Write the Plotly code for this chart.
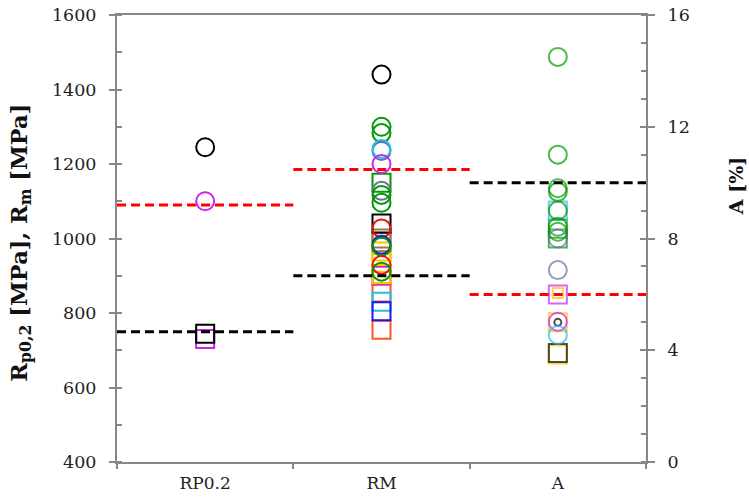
import plotly.graph_objects as go

# ---------------- data ----------------
categories = ["RP0.2", "RM", "A"]
left_tick_values = [400, 600, 800, 1000, 1200, 1400, 1600]
right_tick_values = [0, 4, 8, 12, 16]

# RP0.2 column (MPa, left axis)
rp02_square_values = [730, 744]
rp02_circle_values = [1245, 1100]

# RM column (MPa, left axis)
rm_square_values = [900, 855, 755, 830, 805, 905, 935, 965, 1000, 990, 1040, 1150]
rm_circle_values = [1440, 1300, 1283, 1235, 1240, 1200, 1128, 1117, 1096,
                    1027, 983, 978, 929, 911]

# A column (%, right axis)
a_square_values = [3.85, 3.9, 5.0, 6.0, 6.05, 8.35, 8.0, 9.0]
a_circle_values = [14.5, 11.0, 9.8, 9.67, 9.0, 8.42, 8.24, 8.0, 6.87, 5.02, 5.0, 4.55]

# dashed mean lines per category (RP0.2, RM in MPa; A in %)
red_mean_values = [1090, 1185, 6.0]
black_mean_values = [750, 900, 10.0]

# ---------------- styles ----------------
BLACK = "#000000"
GREEN = "#009a00"
CYAN = "#1fbff0"
SLATE = "#6f6fa8"
MAGENTA = "#cc22ee"
RED = "#ee1111"
BLUE = "#1a1aee"
GOLD = "#ffc000"
BROWN = "#9a7a34"
ORANGE = "#ff5522"
AXIS = "#878787"

rp02_square_colors = [MAGENTA, BLACK]
rp02_circle_colors = [BLACK, MAGENTA]
rm_square_colors = [MAGENTA, ORANGE, ORANGE, CYAN, BLUE, GOLD, GOLD, GOLD,
                    BROWN, BROWN, BLACK, GREEN]
rm_circle_colors = [BLACK, GREEN, GREEN, SLATE, CYAN, MAGENTA, SLATE, GREEN, GREEN,
                    RED, BLUE, GREEN, RED, GREEN]
a_square_colors = [GOLD, BLACK, GOLD, MAGENTA, GOLD, GREEN, GREEN, CYAN]
a_square_sizes = [18, 18, 18, 18, 10, 18, 18, 18]
a_circle_colors = [GREEN, GREEN, GREEN, GREEN, GREEN, GREEN, GREEN, SLATE, SLATE,
                   MAGENTA, BLACK, CYAN]
a_circle_sizes = [18, 18, 18, 18, 18, 18, 18, 18, 18, 18, 7, 18]

FONT = "DejaVu Serif"
MS = 18

fig = go.Figure()


def add_points(cat, values, colors, symbol, sizes=None, yaxis="y"):
    fig.add_trace(go.Scatter(
        x=[cat] * len(values), y=values, mode="markers", yaxis=yaxis,
        marker=dict(symbol=symbol, size=sizes if sizes else MS, color=colors,
                    line=dict(width=2)),
        showlegend=False, hoverinfo="y"))


add_points(categories[0], rp02_square_values, rp02_square_colors, "square-open")
add_points(categories[0], rp02_circle_values, rp02_circle_colors, "circle-open")
add_points(categories[1], rm_square_values, rm_square_colors, "square-open")
add_points(categories[1], rm_circle_values, rm_circle_colors, "circle-open")
add_points(categories[2], a_square_values, a_square_colors, "square-open",
           a_square_sizes, "y2")
add_points(categories[2], a_circle_values, a_circle_colors, "circle-open",
           a_circle_sizes, "y2")

# dashed mean lines spanning each category band
shapes = []
for i, cat in enumerate(categories):
    yref = "y2" if cat == "A" else "y"
    for val, col in ((red_mean_values[i], "#ff0000"), (black_mean_values[i], "#000000")):
        shapes.append(dict(type="line", xref="x", yref=yref,
                           x0=i - 0.5, x1=i + 0.5, y0=val, y1=val,
                           line=dict(color=col, width=3, dash="9px,5px"),
                           layer="above"))

tickfont = dict(family=FONT, size=17.5, color="#222222")
xtickfont = dict(family=FONT, size=17, color="#222222")

fig.update_layout(
    width=749, height=502,
    margin=dict(l=117, r=103, t=15, b=40, autoexpand=False),
    paper_bgcolor="white", plot_bgcolor="white",
    shapes=shapes,
    xaxis=dict(type="category", categoryorder="array", categoryarray=categories,
               range=[-0.5, 2.5], tickson="boundaries", ticks="outside", ticklen=5,
               tickcolor=AXIS, tickwidth=2, showline=True, linecolor=AXIS,
               linewidth=2, mirror=True, showgrid=False, tickfont=xtickfont,
               ticklabelstandoff=5, automargin=False),
    yaxis=dict(range=[400, 1600], tickvals=left_tick_values, ticks="outside",
               ticklen=6, tickcolor=AXIS, tickwidth=2, showline=True,
               linecolor=AXIS, linewidth=2, showgrid=False, zeroline=False,
               tickfont=tickfont, ticklabelstandoff=9, automargin=False,
               minor=dict(dtick=100, ticks="inside", ticklen=5, tickcolor=AXIS,
                          tickwidth=2, showgrid=False)),
    yaxis2=dict(range=[0, 16], tickvals=right_tick_values, overlaying="y",
                side="right", anchor="x", ticks="outside", ticklen=7,
                tickcolor=AXIS, tickwidth=2, showline=True, linecolor=AXIS,
                linewidth=2, showgrid=False, zeroline=False, tickfont=tickfont,
                ticklabelstandoff=9, automargin=False,
                minor=dict(dtick=1, ticks="inside", ticklen=5, tickcolor=AXIS,
                           tickwidth=2, showgrid=False)),
    yaxis3=dict(range=[0, 16], tickvals=right_tick_values, overlaying="y",
                side="right", anchor="x", ticks="inside", ticklen=6,
                tickcolor=AXIS, tickwidth=2, showline=False, showgrid=False,
                zeroline=False, showticklabels=False, automargin=False),
    annotations=[
        dict(text="<b>R<sub>p0,2</sub> [MPa], R<sub>m</sub> [MPa]</b>",
             xref="paper", yref="paper", x=-0.182, y=0.49, textangle=-90,
             showarrow=False, xanchor="center", yanchor="middle",
             font=dict(family=FONT, size=22.5, color="#111111")),
        dict(text="<b>A [%]</b>", xref="paper", yref="paper", x=1.17, y=0.617,
             textangle=-90, showarrow=False, xanchor="center", yanchor="middle",
             font=dict(family=FONT, size=19, color="#111111")),
    ],
)

fig.add_trace(go.Scatter(x=[], y=[], yaxis="y3", showlegend=False))

fig.write_html("out.html", config={"displayModeBar": False},
               post_script="document.body.style.margin='0';")
